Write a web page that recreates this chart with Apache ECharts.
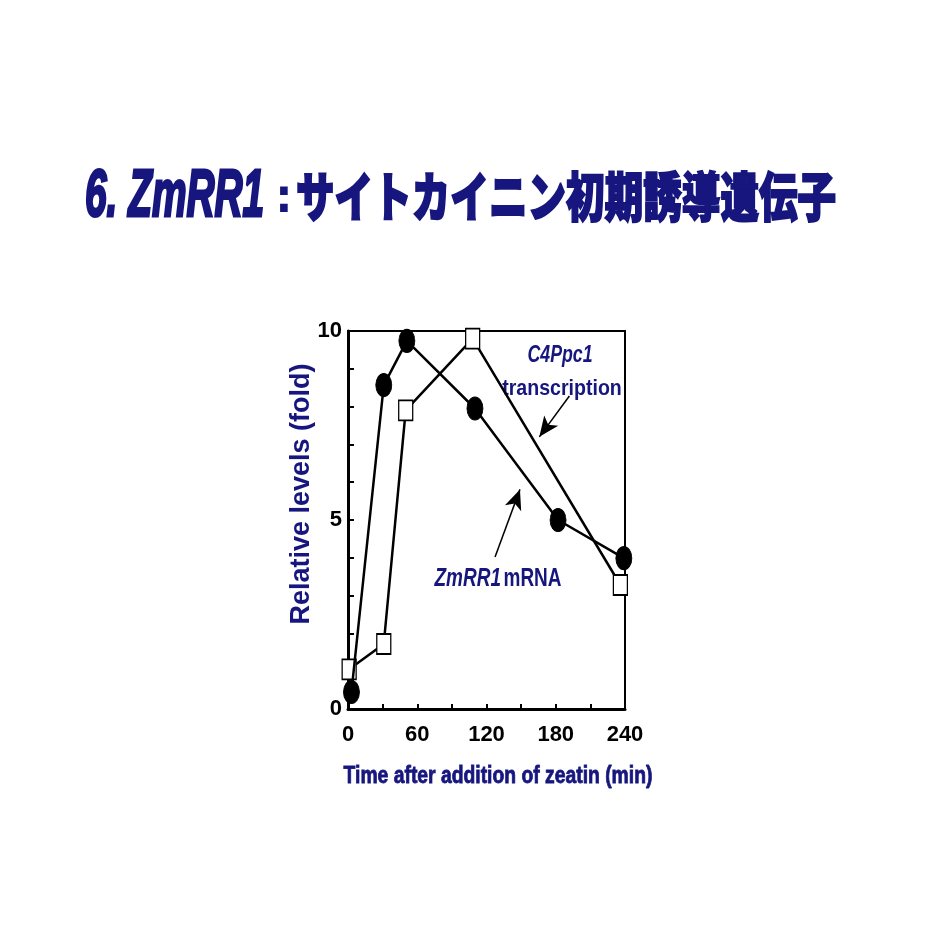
<!DOCTYPE html>
<html>
<head>
<meta charset="utf-8">
<script src="https://cdn.jsdelivr.net/npm/echarts@6/dist/echarts.min.js"></script>
<style>
html,body{margin:0;padding:0;background:#fff;}
#c{width:932px;height:931px;}
</style>
</head>
<body>
<div id="c"></div>
<script>
// Data
var zmrr1X = [3, 31, 51, 110, 182, 239];
var zmrr1Y = [0.45, 8.57, 9.74, 7.95, 5.0, 3.99];
var c4ppcX = [1, 31, 50, 108, 236];
var c4ppcY = [1.05, 1.72, 7.9, 9.8, 3.28];
var xTickLabels = [0, 60, 120, 180, 240];
var yTickLabels = [0, 5, 10];
// annotation arrows: [startX, startY, endX, endY] in data units
var arrowC4 = [191.8, 8.28, 165.8, 7.2];
var arrowZm = [127.4, 4.02, 149, 5.81];

var titleLatin = '6. ZmRR1';
var titleJa = 'サイトカイニン初期誘導遺伝子';
var xTitle = 'Time after addition of zeatin (min)';
var yTitle = 'Relative levels (fold)';

var navy = '#16167e';
var sans = "'Liberation Sans',Arial,sans-serif";

function pairs(xs, ys){ return xs.map(function(x,i){ return [x, ys[i]]; }); }

var chart = echarts.init(document.getElementById('c'), null, {renderer:'canvas'});
chart.setOption({
  backgroundColor:'#fff',
  animation:false,
  grid:{left:348, right:307, top:331, bottom:222, show:true, borderColor:'#000', borderWidth:2, backgroundColor:'transparent'},
  xAxis:{
    type:'value', min:0, max:240, interval:30,
    axisLine:{show:true, onZero:false, lineStyle:{color:'#000', width:3}},
    axisTick:{show:true, inside:true, length:5, lineStyle:{color:'#000', width:2}},
    splitLine:{show:false},
    axisLabel:{
      margin:15, color:'#000', fontFamily:sans, fontWeight:'bold', fontSize:22,
      formatter:function(v){ return xTickLabels.indexOf(v) >= 0 ? String(v) : ''; }
    }
  },
  yAxis:{
    type:'value', min:0, max:10, interval:1,
    axisLine:{show:true, onZero:false, lineStyle:{color:'#000', width:3}},
    axisTick:{show:true, inside:true, length:6, lineStyle:{color:'#000', width:2}},
    splitLine:{show:false},
    axisLabel:{
      margin:6, color:'#000', fontFamily:sans, fontWeight:'bold', fontSize:22,
      formatter:function(v){ return yTickLabels.indexOf(v) >= 0 ? String(v) : ''; }
    }
  },
  series:[
    {
      name:'C4Ppc1', type:'line', data:pairs(c4ppcX, c4ppcY),
      symbol:'rect', symbolSize:[14,20],
      lineStyle:{color:'#000', width:2.5},
      itemStyle:{color:'#fff', borderColor:'#000', borderWidth:1.5},
      z:3,
      markLine:{
        silent:true, symbol:['none','arrow'], symbolSize:[13,20],
        label:{show:false},
        lineStyle:{color:'#000', width:1.5, type:'solid'},
        data:[
          [{coord:[arrowC4[0], arrowC4[1]]},{coord:[arrowC4[2], arrowC4[3]]}],
          [{coord:[arrowZm[0], arrowZm[1]]},{coord:[arrowZm[2], arrowZm[3]]}]
        ]
      }
    },
    {
      name:'ZmRR1', type:'line', data:pairs(zmrr1X, zmrr1Y),
      symbol:'circle', symbolSize:[16,23],
      lineStyle:{color:'#000', width:2.5},
      itemStyle:{color:'#000', borderColor:'#000', borderWidth:1},
      z:4
    }
  ],
  graphic:[
    {
      type:'text', x:85, y:198, scaleX:0.58,
      style:{text:titleLatin, fill:navy, stroke:navy, lineWidth:3, align:'left', verticalAlign:'middle', font:"italic bold 67px " + sans}
    },
    {
      type:'text', x:284, y:198, scaleX:0.9,
      style:{text:':', fill:navy, stroke:navy, lineWidth:2, align:'center', verticalAlign:'middle', font:"bold 46px " + sans}
    },
    {
      type:'text', x:296, y:197, scaleX:0.728,
      style:{text:titleJa, fill:navy, stroke:navy, lineWidth:2, align:'left', verticalAlign:'middle', font:"900 53px 'Noto Sans CJK JP',sans-serif"}
    },
    {
      type:'text', x:302, y:494, rotation:Math.PI/2,
      style:{text:yTitle, fill:navy, align:'center', verticalAlign:'middle', font:"bold 27px " + sans}
    },
    {
      type:'text', x:498, y:777, scaleX:0.84,
      style:{text:xTitle, fill:navy, stroke:navy, lineWidth:0.8, align:'center', verticalAlign:'middle', font:"bold 23px " + sans}
    },
    {
      type:'text', x:560, y:355, scaleX:0.74,
      style:{text:'C4Ppc1', fill:navy, align:'center', verticalAlign:'middle', font:"italic bold 24px " + sans}
    },
    {
      type:'text', x:562, y:389, scaleX:0.89,
      style:{text:'transcription', fill:navy, align:'center', verticalAlign:'middle', font:"bold 22px " + sans}
    },
    {
      type:'text', x:498, y:579, scaleX:0.76,
      style:{
        text:'{i|ZmRR1} {n|mRNA}', align:'center', verticalAlign:'middle',
        rich:{
          i:{fill:navy, fontStyle:'italic', fontWeight:'bold', fontSize:25, fontFamily:sans},
          n:{fill:navy, fontWeight:'bold', fontSize:25, fontFamily:sans}
        }
      }
    }
  ]
});
</script>
</body>
</html>
